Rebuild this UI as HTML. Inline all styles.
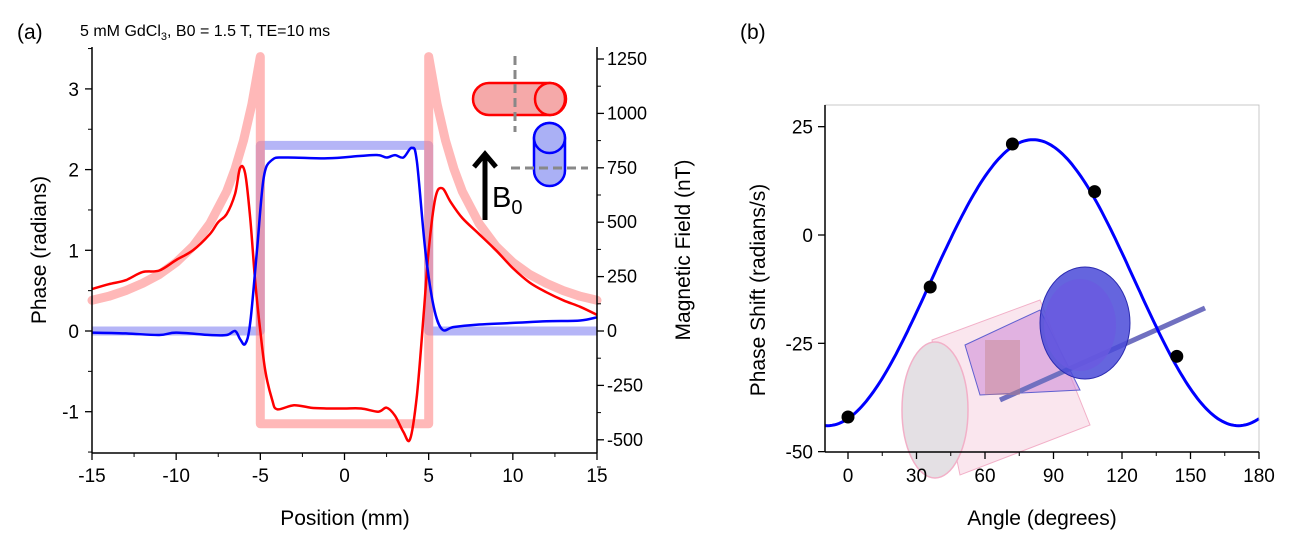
<!DOCTYPE html>
<html><head><meta charset="utf-8"><style>
body{margin:0;background:#fff;}
svg{display:block;font-family:"Liberation Sans",Arial,sans-serif;}
</style></head><body>
<svg id="fig" width="1294" height="541" viewBox="0 0 1294 541">
<text x="17" y="39" font-size="21">(a)</text>
<text x="740" y="39" font-size="21">(b)</text>
<text x="80" y="36" font-size="16">5 mM GdCl<tspan font-size="11" dy="4">3</tspan><tspan dy="-4">, B0 = 1.5 T, TE=10 ms</tspan></text>
<g id="ga"></g>
<g id="gb"></g>
</svg>
<script>
// ---------- Chart A data ----------
const theoryRedX=[-15,-14,-13,-12,-11,-10,-9,-8,-7,-6.5,-6,-5.5,-5,-5,5,5,5.5,6,6.5,7,8,9,10,11,12,13,14,15];
const theoryRedY=[0.38,0.43,0.5,0.59,0.7,0.85,1.05,1.33,1.73,2.01,2.36,2.81,3.4,-1.15,-1.15,3.4,2.81,2.36,2.01,1.73,1.33,1.05,0.85,0.7,0.59,0.5,0.43,0.38];
const theoryBlueX=[-15,-5,-5,5,5,15];
const theoryBlueY=[0,0,2.3,2.3,0,0];
const redX=[-15,-14,-13,-12,-11,-10,-9,-8,-7.5,-7,-6.5,-6.2,-5.9,-5.6,-5.3,-5,-4.7,-4.3,-4,-3,-2,-1,0,1,2,2.5,3,3.5,3.9,4.3,4.7,5,5.4,5.8,6.3,7,8,9,10,11,12,13,14,15];
const redY=[0.52,0.58,0.63,0.73,0.75,0.88,1.0,1.2,1.35,1.45,1.7,2.02,1.95,1.4,0.6,0,-0.5,-0.85,-0.97,-0.92,-0.95,-0.96,-0.96,-0.96,-1.0,-0.95,-1.05,-1.25,-1.34,-0.8,0.2,1.0,1.65,1.77,1.6,1.4,1.2,1.0,0.78,0.6,0.48,0.38,0.3,0.2];
const blueX=[-15,-13,-11,-10,-8,-7,-6.5,-6.2,-5.9,-5.6,-5.2,-4.8,-4.3,-3.5,-1,1,2,2.5,3,3.5,4,4.3,4.8,5.3,5.8,6.5,8,10,12,14,15];
const blueY=[-0.02,-0.03,-0.05,-0.02,-0.05,-0.05,0,-0.1,-0.16,0.1,1.0,1.9,2.12,2.15,2.14,2.17,2.18,2.15,2.18,2.15,2.27,2.1,1.0,0.3,0.02,0.05,0.08,0.1,0.12,0.13,0.17];
const aXTicks=[-15,-10,-5,0,5,10,15];
const aYTicks=[-1,0,1,2,3];
const aY2Ticks=[-500,-250,0,250,500,750,1000,1250];
// ---------- Chart B data ----------
const angles=[0,36,72,108,144];
const shifts=[-42,-12,21,10,-28];
const fitAmp=33, fitOffset=-11, fitPhase=81;
const bXTicks=[0,30,60,90,120,150,180];
const bYTicks=[-50,-25,0,25];

const NS="http://www.w3.org/2000/svg";
function el(tag,attrs,parent,text){const e=document.createElementNS(NS,tag);for(const k in attrs)e.setAttribute(k,attrs[k]);if(text!==undefined)e.textContent=text;parent.appendChild(e);return e;}
function smooth(X,Y,fx,fy){const P=X.map((x,i)=>[fx(x),fy(Y[i])]);let d='M'+P[0][0].toFixed(1)+','+P[0][1].toFixed(1);
 for(let i=0;i<P.length-1;i++){const p0=P[Math.max(0,i-1)],p1=P[i],p2=P[i+1],p3=P[Math.min(P.length-1,i+2)];
  const c1=[p1[0]+(p2[0]-p0[0])/6,p1[1]+(p2[1]-p0[1])/6],c2=[p2[0]-(p3[0]-p1[0])/6,p2[1]-(p3[1]-p1[1])/6];
  d+=' C'+c1.map(v=>v.toFixed(1)).join(',')+' '+c2.map(v=>v.toFixed(1)).join(',')+' '+p2[0].toFixed(1)+','+p2[1].toFixed(1);}
 return d;}

const ax=x=>92+(x+15)*(505/30);
const ay=y=>331-y*80.7;
const ay2=v=>331-v*0.2176;
const ga=document.getElementById('ga');
function pts(X,Y,fx,fy){return X.map((x,i)=>fx(x).toFixed(1)+','+fy(Y[i]).toFixed(1)).join(' ');}
let p;
p=el('polyline',{points:pts(theoryBlueX,theoryBlueY,ax,ay),fill:'none',stroke:'#6b6bf0','stroke-opacity':0.5,'stroke-width':9,'stroke-linejoin':'round'},ga);


p=el('polyline',{points:pts(theoryRedX,theoryRedY,ax,ay),fill:'none',stroke:'#f88','stroke-opacity':0.6,'stroke-width':9,'stroke-linejoin':'round','stroke-linecap':'round'},ga);


p=el('path',{d:smooth(redX,redY,ax,ay),fill:'none',stroke:'#f00','stroke-width':2.5,'stroke-linejoin':'round'},ga);


p=el('path',{d:smooth(blueX,blueY,ax,ay),fill:'none',stroke:'#00f','stroke-width':2.5,'stroke-linejoin':'round'},ga);


el('line',{x1:92,y1:47,x2:92,y2:453,stroke:'#000','stroke-width':1.5},ga);
el('line',{x1:597,y1:47,x2:597,y2:453,stroke:'#000','stroke-width':1.5},ga);
el('line',{x1:92,y1:453,x2:597,y2:453,stroke:'#000','stroke-width':1.5},ga);
aXTicks.forEach(t=>{const x=ax(t);el('line',{x1:x,y1:453,x2:x,y2:460,stroke:'#000','stroke-width':1.3},ga);
 const tx=el('text',{x:x,y:482,'font-size':19,'text-anchor':'middle'},ga,String(t));
 
 
 if(t<15){const m=ax(t+2.5);el('line',{x1:m,y1:453,x2:m,y2:457,stroke:'#000','stroke-width':1},ga);}});
aYTicks.forEach(t=>{const y=ay(t);el('line',{x1:85,y1:y,x2:92,y2:y,stroke:'#000','stroke-width':1.3},ga);
 const tx=el('text',{x:79,y:y+7,'font-size':19,'text-anchor':'end'},ga,String(t));
 
 });
[-1.5,-0.5,0.5,1.5,2.5,3.5].forEach(t=>{const y=ay(t);el('line',{x1:88,y1:y,x2:92,y2:y,stroke:'#000','stroke-width':1},ga);});
aY2Ticks.forEach(t=>{const y=ay2(t);el('line',{x1:597,y1:y,x2:604,y2:y,stroke:'#000','stroke-width':1.3},ga);
 const tx=el('text',{x:607,y:y+6,'font-size':18},ga,String(t));
 
 
 if(t<1250){const m=ay2(t+125);el('line',{x1:597,y1:m,x2:601,y2:m,stroke:'#000','stroke-width':1},ga);}});
el('line',{x1:597,y1:ay2(-625),x2:601,y2:ay2(-625),stroke:'#000'},ga);
let t;
t=el('text',{x:345,y:525,'font-size':21,'text-anchor':'middle'},ga,'Position (mm)');

t=el('text',{x:0,y:0,'font-size':21,'text-anchor':'middle',transform:'translate(46,250) rotate(-90)'},ga,'Phase (radians)');

t=el('text',{x:0,y:0,'font-size':21,'text-anchor':'middle',transform:'translate(690,250) rotate(-90)'},ga,'Magnetic Field (nT)');

const ic=el('g',{},ga);
el('rect',{x:473,y:83,width:93,height:32,rx:16,fill:'#f5a9a9',stroke:'#f00','stroke-width':2.5},ic);
el('ellipse',{cx:550,cy:99,rx:15,ry:16,fill:'#f5a9a9',stroke:'#f00','stroke-width':2.5},ic);
el('line',{x1:515,y1:56,x2:515,y2:132,stroke:'#888','stroke-width':3,'stroke-dasharray':'9,5'},ic);
el('rect',{x:534,y:123,width:31,height:63,rx:15.5,fill:'#aab0f5',stroke:'#00f','stroke-width':2.5},ic);
el('ellipse',{cx:549.5,cy:138,rx:15.5,ry:15,fill:'#aab0f5',stroke:'#00f','stroke-width':2.5},ic);
el('line',{x1:511,y1:168,x2:588,y2:168,stroke:'#888','stroke-width':3,'stroke-dasharray':'9,5'},ic);
el('line',{x1:485,y1:220,x2:485,y2:158,stroke:'#000','stroke-width':5},ic);
el('polyline',{points:'474,167 485,154 496,167',fill:'none',stroke:'#000','stroke-width':5},ic);
const b0=el('text',{x:492,y:207,'font-size':29},ic,'B');el('tspan',{'font-size':20,dy:7},b0,'0');

// ---------- Chart B ----------
const bx=a=>848+a*(411/180);
const by=v=>235-v*4.333;
const gb=document.getElementById('gb');
const ap=el('g',{},gb);
el('polygon',{points:'932,340 1040,300 1090,425 960,475',fill:'#f6d6e2','fill-opacity':0.6,stroke:'#f2b0c8'},ap);
el('ellipse',{cx:935,cy:410,rx:33,ry:68,fill:'#e4e0e4',stroke:'#f2b0c8','stroke-width':1.5},ap);
el('polygon',{points:'965,345 1040,310 1080,390 980,395',fill:'#d090d8','fill-opacity':0.6,stroke:'#6060d0'},ap);
el('line',{x1:1000,y1:400,x2:1205,y2:308,stroke:'#7070c0','stroke-width':5},ap);
el('ellipse',{cx:1085,cy:323,rx:45,ry:56,fill:'#4a4ad8','fill-opacity':0.85,stroke:'#2a2ab0'},ap);
el('ellipse',{cx:1080,cy:325,rx:36,ry:46,fill:'#6a5ae0','fill-opacity':0.8},ap);
el('rect',{x:985,y:340,width:35,height:55,fill:'#c08080','fill-opacity':0.4},ap);
let d='';for(let a=-10;a<=180;a+=1){const v=fitOffset+fitAmp*Math.cos(2*(a-fitPhase)*Math.PI/180);d+=(a===-10?'M':'L')+bx(a).toFixed(1)+','+by(v).toFixed(1);}
p=el('path',{d:d,fill:'none',stroke:'#00f','stroke-width':3},gb);

angles.forEach((a,i)=>{const c=el('circle',{cx:bx(a),cy:by(shifts[i]),r:6.5,fill:'#000'},gb);
 
 });
el('rect',{x:825,y:105,width:434,height:347,fill:'none',stroke:'#bbb','stroke-width':0.8},gb);
el('line',{x1:825,y1:105,x2:825,y2:452,stroke:'#000','stroke-width':1.5},gb);
el('line',{x1:825,y1:452,x2:1259,y2:452,stroke:'#000','stroke-width':1.5},gb);
bXTicks.forEach(tk=>{const x=bx(tk);el('line',{x1:x,y1:452,x2:x,y2:459,stroke:'#000','stroke-width':1.3},gb);
 const tx=el('text',{x:x,y:482,'font-size':19,'text-anchor':'middle'},gb,String(tk));
 
 
 if(tk<180){const m=bx(tk+15);el('line',{x1:m,y1:452,x2:m,y2:456,stroke:'#000'},gb);}});
bYTicks.forEach(tk=>{const y=by(tk);el('line',{x1:818,y1:y,x2:825,y2:y,stroke:'#000','stroke-width':1.3},gb);
 const tx=el('text',{x:813,y:y+7,'font-size':19,'text-anchor':'end'},gb,String(tk));
 
 });
t=el('text',{x:1042,y:525,'font-size':21,'text-anchor':'middle'},gb,'Angle (degrees)');

t=el('text',{x:0,y:0,'font-size':21,'text-anchor':'middle',transform:'translate(765,290) rotate(-90)'},gb,'Phase Shift (radians/s)');

</script>
</body></html>
